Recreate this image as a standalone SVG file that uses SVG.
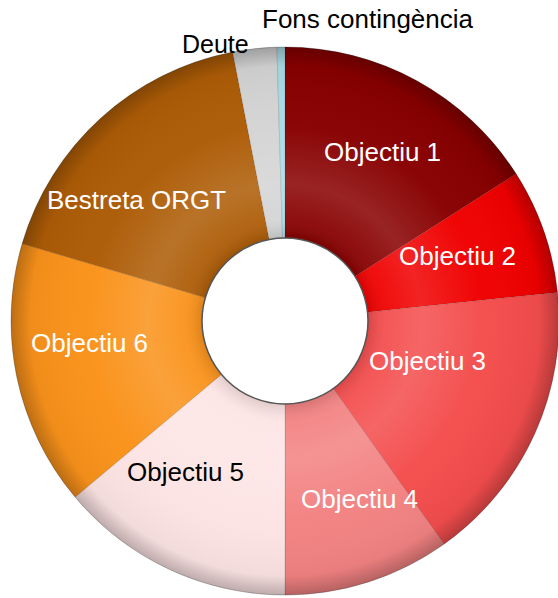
<svg xmlns="http://www.w3.org/2000/svg" width="558" height="598" viewBox="0 0 558 598">
  <defs>
    <radialGradient id="shade" gradientUnits="userSpaceOnUse" cx="285" cy="321" r="274">
      <stop offset="0.30" stop-color="#000" stop-opacity="0.12"/>
      <stop offset="0.37" stop-color="#fff" stop-opacity="0.06"/>
      <stop offset="0.50" stop-color="#fff" stop-opacity="0.14"/>
      <stop offset="0.72" stop-color="#fff" stop-opacity="0.02"/>
      <stop offset="0.93" stop-color="#000" stop-opacity="0.04"/>
      <stop offset="1.00" stop-color="#000" stop-opacity="0.25"/>
    </radialGradient>
  </defs>
  <style>
    .slice { stroke: rgba(0,0,0,0.15); stroke-width: 0.8; }
    .lbl { font-family: "Liberation Sans", Arial, sans-serif; font-size: 26px; }
    .w { fill: #ffffff; }
    .k { fill: #000000; }
  </style>
  <rect width="558" height="598" fill="#ffffff"/>

  <g id="objectiu1">
    <path class="slice" fill="#880000" d="M285,47 A274,274 0 0 1 516.1,173.8 L355.0,276.4 A83,83 0 0 0 285,238 Z"/>
  </g>
  <g id="objectiu2">
    <path class="slice" fill="#f00000" d="M516.1,173.8 A274,274 0 0 1 557.5,292.4 L367.5,312.3 A83,83 0 0 0 355.0,276.4 Z"/>
  </g>
  <g id="objectiu3">
    <path class="slice" fill="#f44d4d" d="M557.5,292.4 A274,274 0 0 1 444.1,544.1 L333.2,388.6 A83,83 0 0 0 367.5,312.3 Z"/>
  </g>
  <g id="objectiu4">
    <path class="slice" fill="#f38282" d="M444.1,544.1 A274,274 0 0 1 285,595 L285,404 A83,83 0 0 0 333.2,388.6 Z"/>
  </g>
  <g id="objectiu5">
    <path class="slice" fill="#fde4e4" d="M285,595 A274,274 0 0 1 75.1,497.1 L221.4,374.4 A83,83 0 0 0 285,404 Z"/>
  </g>
  <g id="objectiu6">
    <path class="slice" fill="#fa921a" d="M75.1,497.1 A274,274 0 0 1 22.2,243.6 L205.4,297.6 A83,83 0 0 0 221.4,374.4 Z"/>
  </g>
  <g id="bestreta">
    <path class="slice" fill="#ad5c06" d="M22.2,243.6 A274,274 0 0 1 232.7,52.0 L269.2,239.5 A83,83 0 0 0 205.4,297.6 Z"/>
  </g>
  <g id="deute">
    <path class="slice" fill="#d4d4d4" d="M232.7,52.0 A274,274 0 0 1 276.9,47.1 L282.5,238.0 A83,83 0 0 0 269.2,239.5 Z"/>
  </g>
  <g id="fons">
    <path class="slice" fill="#a8dbe6" d="M276.9,47.1 A274,274 0 0 1 285,47 L285,238 A83,83 0 0 0 282.5,238.0 Z"/>
  </g>

  <path fill="url(#shade)" fill-rule="evenodd" d="M285,47 A274,274 0 1 1 284.99,47 Z M285,238 A83,83 0 1 0 285.01,238 Z"/>
  <circle cx="285" cy="321" r="274" fill="none" stroke="rgba(0,0,0,0.12)" stroke-width="1"/>
  <circle id="hole" cx="285" cy="321" r="83" fill="#ffffff" stroke="#555555" stroke-width="1.5"/>

  <g id="labels">
    <text class="lbl k" x="262" y="28">Fons contingència</text>
    <text class="lbl k" x="182" y="53" style="font-size:25px">Deute</text>
    <text class="lbl w" x="324" y="161">Objectiu 1</text>
    <text class="lbl w" x="399" y="265">Objectiu 2</text>
    <text class="lbl w" x="369" y="370">Objectiu 3</text>
    <text class="lbl w" x="301" y="508">Objectiu 4</text>
    <text class="lbl k" x="127" y="481">Objectiu 5</text>
    <text class="lbl w" x="31" y="352">Objectiu 6</text>
    <text class="lbl w" x="47" y="209">Bestreta ORGT</text>
  </g>
</svg>
